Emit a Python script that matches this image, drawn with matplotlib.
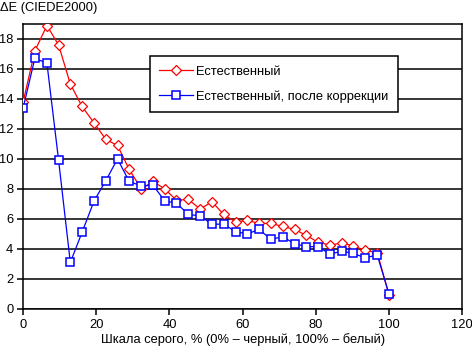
import numpy as np
import matplotlib.pyplot as plt

plt.rcParams['font.family'] = ['Liberation Sans', 'DejaVu Sans']

# шкала серого, %
x = [0, 3.2, 6.5, 9.7, 12.9, 16.1, 19.4, 22.6, 25.8, 29.0, 32.3, 35.5,
     38.7, 41.9, 45.2, 48.4, 51.6, 54.8, 58.1, 61.3, 64.5, 67.7, 71.0,
     74.2, 77.4, 80.6, 83.9, 87.1, 90.3, 93.5, 96.8, 100]

natural = [13.8, 17.2, 18.9, 17.6, 15.0, 13.5, 12.4, 11.3, 10.9, 9.3,
           8.0, 8.5, 8.0, 7.25, 7.3, 6.65, 7.15, 6.3, 5.8, 5.9, 5.7, 5.7,
           5.5, 5.3, 4.9, 4.45, 4.25, 4.4, 4.2, 3.9, 3.75, 0.95]

corrected = [13.4, 16.7, 16.4, 9.9, 3.1, 5.1, 7.2, 8.55, 10.0, 8.5, 8.2,
             8.25, 7.2, 7.05, 6.3, 6.2, 5.65, 5.65, 5.15, 5.0, 5.3, 4.65,
             4.8, 4.35, 4.15, 4.15, 3.65, 3.85, 3.7, 3.4, 3.6, 1.0]

fig = plt.figure(figsize=(4.72, 3.53), dpi=100)
ax = fig.add_axes([0.049, 0.125, 0.93, 0.807])

ax.plot(x, natural, color='#ff0000', lw=0.9, marker='D', markersize=5.5,
        markerfacecolor='white', markeredgecolor='#ff0000', markeredgewidth=0.9,
        label='Естественный', zorder=3)
ax.plot(x, corrected, color='#0000ff', lw=0.9, marker='s', markersize=6.3,
        markerfacecolor='white', markeredgecolor='#0000ff', markeredgewidth=1.1,
        label='Естественный, после коррекции', zorder=4)

ax.set_xlim(0, 120)
ax.set_ylim(0, 19)
ax.set_xticks(np.arange(0, 121, 20))
ax.set_yticks(np.arange(0, 19, 2))
ax.yaxis.grid(True, color='black', lw=1.1)
ax.set_axisbelow(True)
for s in ax.spines.values():
    s.set_linewidth(1.1)
ax.tick_params(labelsize=9.3, length=4, width=1.1, direction='out', pad=3)

ax.set_xlabel('Шкала серого, % (0% – черный, 100% – белый)', fontsize=9.3, labelpad=2)
fig.text(0.0, 0.995, 'ΔE (CIEDE2000)', fontsize=9.3, ha='left', va='top')

leg = ax.legend(loc='upper left', bbox_to_anchor=(0.289, 0.886), fontsize=9.3,
                frameon=True, fancybox=False, edgecolor='black', framealpha=1,
                handlelength=2.6, handletextpad=0.3, borderpad=0.7,
                labelspacing=1.0, borderaxespad=0)
leg.get_frame().set_linewidth(1.1)

fig.savefig('out.png', dpi=100)
